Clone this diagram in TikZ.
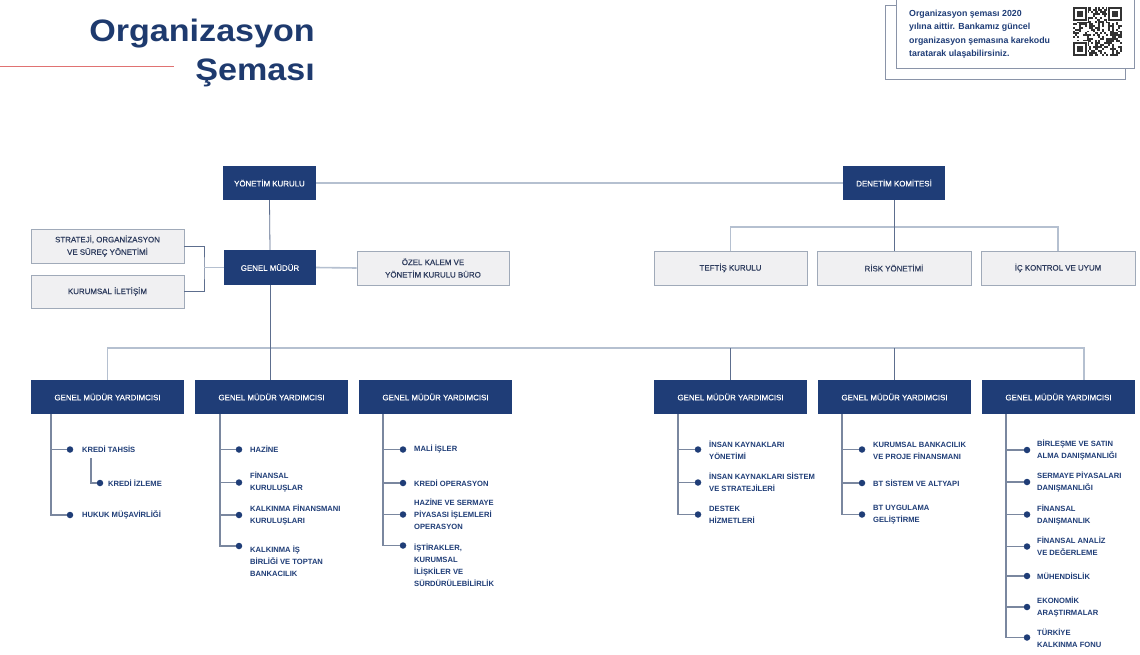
\documentclass[tikz,border=0pt]{standalone}
\usepackage{fontspec}
\setmainfont{Liberation Sans}
\newfontfamily\orgtitlefont[FakeStretch=1.1]{Liberation Sans}
\newfontfamily\orgmedfont[FakeBold=0.6]{Liberation Sans}
\newcommand\orgboxfont{\orgmedfont\fontsize{7.9}{12.5}\selectfont}
\newcommand\orgitemfont{\fontsize{7.6}{12}\selectfont\bfseries}
\newcommand\orgqrfont{\fontsize{8.8}{13.5}\selectfont\bfseries}
\definecolor{dkblue}{HTML}{1F3D77}
\definecolor{titleblue}{HTML}{1E3A6E}
\definecolor{lightline}{HTML}{B5C0D0}
\definecolor{darkline}{HTML}{5D6E8E}
\definecolor{subline}{HTML}{7A879F}
\definecolor{grayfill}{HTML}{F0F0F2}
\definecolor{grayborder}{HTML}{A0AAB9}
\definecolor{graytext}{HTML}{2E3C5E}
\definecolor{redline}{HTML}{E07272}
\definecolor{qrborder}{HTML}{8A94A8}
\begin{document}
\begin{tikzpicture}[x=1pt,y=-1pt,
  darkbox/.style={fill=dkblue,text=white,font=\orgboxfont,minimum height=34pt,inner sep=0pt,align=center},
  graybox/.style={fill=grayfill,draw=grayborder,line width=0.8pt,text=graytext,font=\orgboxfont,minimum height=34pt,inner sep=0pt,align=center},
  item/.style={anchor=west,text=dkblue,font=\orgitemfont,align=left,inner sep=0pt},
  dotn/.style={circle,fill=dkblue,inner sep=0pt,minimum size=6.5pt},
  lightc/.style={draw=lightline,line width=1.6pt},
  darkc/.style={draw=darkline,line width=0.8pt},
  subc/.style={draw=subline,line width=1.1pt},
  titletext/.style={anchor=base east,text=titleblue,font=\orgtitlefont\bfseries\fontsize{31}{36}\selectfont,inner sep=0pt},
  qrtext/.style={anchor=north west,text=dkblue,font=\orgqrfont,align=left,inner sep=0pt}
]
\useasboundingbox[fill=white] (0,0) rectangle (1140,654);

% title
\node[titletext] (t1) at (315,41) {Organizasyon};
\node[titletext] (t2) at (315,80) {Şeması};
\draw[redline,line width=0.8pt] (0,66) -- (174,66);

% QR info box
\draw[qrborder,line width=0.8pt] (885,5) rectangle (1125,79);
\draw[qrborder,line width=0.8pt,fill=white] (896,-5) rectangle (1134,68);
\node[qrtext] (qrt) at (909,9.5) {Organizasyon şeması 2020\\yılına aittir. Bankamız güncel\\organizasyon şemasına karekodu\\taratarak ulaşabilirsiniz.};
\begin{scope}[shift={(1073,7)}]
  \def\m{1.96}
  \pgfmathsetseed{4242}
  \foreach \i in {0,...,24}{
    \foreach \j in {0,...,24}{
      \pgfmathrandominteger{\rr}{0}{1}
      \ifnum\rr=1 \fill[black!80] (\i*\m,\j*\m) rectangle +(\m,\m); \fi
    }
  }
  \foreach \ox/\oy in {0/0,18/0,0/18}{
    \fill[white] ({(\ox-0.5)*\m},{(\oy-0.5)*\m}) rectangle +(8*\m,8*\m);
    \fill[black!80] (\ox*\m,\oy*\m) rectangle +(7*\m,7*\m);
    \fill[white] ({(\ox+1)*\m},{(\oy+1)*\m}) rectangle +(5*\m,5*\m);
    \fill[black!80] ({(\ox+2)*\m},{(\oy+2)*\m}) rectangle +(3*\m,3*\m);
  }
\end{scope}

% top level boxes
\node[darkbox,minimum width=93pt] (yk) at (269.5,183) {YÖNETİM KURULU};
\node[darkbox,minimum width=102pt] (dk) at (894,183) {DENETİM KOMİTESİ};
\node[darkbox,minimum width=92pt,minimum height=35pt] (gm) at (270,267.5) {GENEL MÜDÜR};
\node[graybox,minimum width=153pt] (str) at (107.5,246) {STRATEJİ, ORGANİZASYON\\VE SÜREÇ YÖNETİMİ};
\node[graybox,minimum width=153pt,minimum height=33pt] (kur) at (107.5,291.5) {KURUMSAL İLETİŞİM};
\node[graybox,minimum width=152pt] (ozk) at (433,268) {ÖZEL KALEM VE\\YÖNETİM KURULU BÜRO};
\node[graybox,minimum width=153pt] (tef) at (730.5,268) {TEFTİŞ KURULU};
\node[graybox,minimum width=154pt] (rsk) at (894,268) {RİSK YÖNETİMİ};
\node[graybox,minimum width=154pt] (ick) at (1058,268) {İÇ KONTROL VE UYUM};

% GMY boxes
\foreach \n/\cx in {1/107.5,2/271.5,3/435.5,4/730.5,5/894.5,6/1058.5}{
  \node[darkbox,minimum width=153pt] (gmy\n) at (\cx,397) {GENEL MÜDÜR YARDIMCISI};
}

% top connectors
\draw[lightc] (yk.east) -- (dk.west);
\draw[darkc] (yk.south) -- (gm.north);
\coordinate (sj) at (204,267.5);
\draw[darkc] (str.east) -| (sj) |- (kur.east);
\draw[lightc] (gm.west) -- (sj);
\draw[lightc] (gm.east) -- (ozk.west);
\coordinate (db) at (894,227);
\draw[lightc] (tef.north) |- (db) -| (ick.north);
\draw[darkc] (dk.south) -- (rsk.north);

% GMY bus
\coordinate (b1) at (107.5,348);
\coordinate (b6) at (1084,348);
\draw[lightc] (gmy1.north) -- (b1) -- (b6) -- (b6 |- gmy6.north);
\draw[darkc] (gm.south) -- (gm.south |- gmy2.north);
\draw[darkc] (gmy4.north) -- (gmy4.north |- b1);
\draw[darkc] (gmy5.north) -- (gmy5.north |- b1);

% column 1
\coordinate (c1) at (51,414);
\node[dotn] (d11) at (70,449.5) {};
\node[item] (t11) at (82,449.5) {KREDİ TAHSİS};
\coordinate (c1s) at (91,458);
\node[dotn] (d12) at (100,483) {};
\node[item] (t12) at (108,483) {KREDİ İZLEME};
\node[dotn] (d13) at (70,515) {};
\node[item] (t13) at (82,515) {HUKUK MÜŞAVİRLİĞİ};
\draw[subc] (c1) |- (d13);
\draw[subc] (d11 -| c1) -- (d11);
\draw[subc] (c1s) |- (d12);

% column 2
\coordinate (c2) at (220,414);
\node[dotn] (d21) at (239,449.5) {};
\node[item] (t21) at (250,449.5) {HAZİNE};
\node[dotn] (d22) at (239,482.5) {};
\node[item] (t22) at (250,482.5) {FİNANSAL\\KURULUŞLAR};
\node[dotn] (d23) at (239,515) {};
\node[item] (t23) at (250,515.5) {KALKINMA FİNANSMANI\\KURULUŞLARI};
\node[dotn] (d24) at (239,546) {};
\node[item] (t24) at (250,561) {KALKINMA İŞ\\BİRLİĞİ VE TOPTAN\\BANKACILIK};
\draw[subc] (c2) |- (d24);
\foreach \k in {1,2,3}{\draw[subc] (d2\k -| c2) -- (d2\k);}

% column 3
\coordinate (c3) at (383,414);
\node[dotn] (d31) at (403,449.5) {};
\node[item] (t31) at (414,449.5) {MALİ İŞLER};
\node[dotn] (d32) at (403,483) {};
\node[item] (t32) at (414,483) {KREDİ OPERASYON};
\node[dotn] (d33) at (403,514.5) {};
\node[item] (t33) at (414,514.5) {HAZİNE VE SERMAYE\\PİYASASI İŞLEMLERİ\\OPERASYON};
\node[dotn] (d34) at (403,545.5) {};
\node[item] (t34) at (414,565.5) {İŞTİRAKLER,\\KURUMSAL\\İLİŞKİLER VE\\SÜRDÜRÜLEBİLİRLİK};
\draw[subc] (c3) |- (d34);
\foreach \k in {1,2,3}{\draw[subc] (d3\k -| c3) -- (d3\k);}

% column 4
\coordinate (c4) at (678,414);
\node[dotn] (d41) at (698,449.5) {};
\node[item] (t41) at (709,450.5) {İNSAN KAYNAKLARI\\YÖNETİMİ};
\node[dotn] (d42) at (698,482.5) {};
\node[item] (t42) at (709,482.5) {İNSAN KAYNAKLARI SİSTEM\\VE STRATEJİLERİ};
\node[dotn] (d43) at (698,514.5) {};
\node[item] (t43) at (709,514.5) {DESTEK\\HİZMETLERİ};
\draw[subc] (c4) |- (d43);
\foreach \k in {1,2}{\draw[subc] (d4\k -| c4) -- (d4\k);}

% column 5
\coordinate (c5) at (842,414);
\node[dotn] (d51) at (862,449.5) {};
\node[item] (t51) at (873,450.5) {KURUMSAL BANKACILIK\\VE PROJE FİNANSMANI};
\node[dotn] (d52) at (862,483) {};
\node[item] (t52) at (873,483) {BT SİSTEM VE ALTYAPI};
\node[dotn] (d53) at (862,514.5) {};
\node[item] (t53) at (873,514.5) {BT UYGULAMA\\GELİŞTİRME};
\draw[subc] (c5) |- (d53);
\foreach \k in {1,2}{\draw[subc] (d5\k -| c5) -- (d5\k);}

% column 6
\coordinate (c6) at (1006,414);
\node[dotn] (d61) at (1027,450) {};
\node[item] (t61) at (1037,450) {BİRLEŞME VE SATIN\\ALMA DANIŞMANLIĞI};
\node[dotn] (d62) at (1027,482) {};
\node[item] (t62) at (1037,482) {SERMAYE PİYASALARI\\DANIŞMANLIĞI};
\node[dotn] (d63) at (1027,514.5) {};
\node[item] (t63) at (1037,515) {FİNANSAL\\DANIŞMANLIK};
\node[dotn] (d64) at (1027,546.5) {};
\node[item] (t64) at (1037,546.5) {FİNANSAL ANALİZ\\VE DEĞERLEME};
\node[dotn] (d65) at (1027,576) {};
\node[item] (t65) at (1037,576) {MÜHENDİSLİK};
\node[dotn] (d66) at (1027,607) {};
\node[item] (t66) at (1037,607) {EKONOMİK\\ARAŞTIRMALAR};
\node[dotn] (d67) at (1027,637.5) {};
\node[item] (t67) at (1037,638) {TÜRKİYE\\KALKINMA FONU};
\draw[subc] (c6) |- (d67);
\foreach \k in {1,...,6}{\draw[subc] (d6\k -| c6) -- (d6\k);}
\end{tikzpicture}
\end{document}
